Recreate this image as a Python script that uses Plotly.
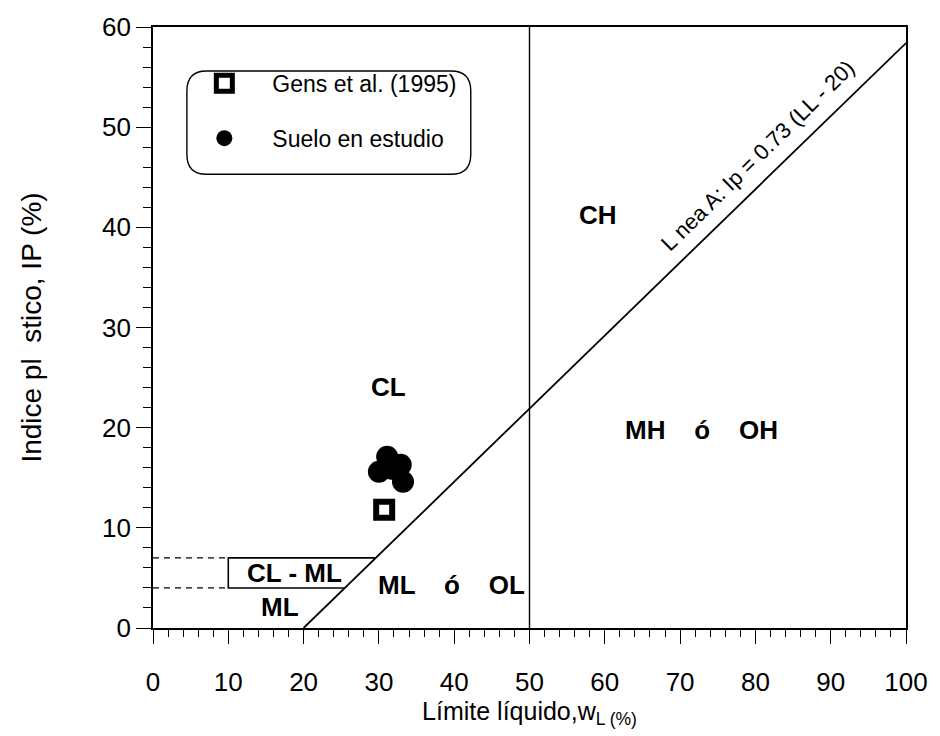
import plotly.graph_objects as go

# Data
gens_ll = [30.7]
gens_ip = [11.8]
suelo_ll = [30.0, 31.1, 31.7, 32.9, 33.2]
suelo_ip = [15.6, 17.1, 15.9, 16.3, 14.6]

aline_ll = [20, 100]
aline_ip = [0.73 * (v - 20) for v in aline_ll]

FONT = "Liberation Sans, Arial, sans-serif"

fig = go.Figure()

# A-line
fig.add_trace(go.Scatter(x=aline_ll, y=aline_ip, mode="lines",
                         line=dict(color="black", width=1.8), showlegend=False, hoverinfo="skip"))
# vertical line LL=50
fig.add_trace(go.Scatter(x=[50, 50], y=[0, 60], mode="lines",
                         line=dict(color="black", width=1.4), showlegend=False, hoverinfo="skip"))
# dashed lines at IP=4 and 7
for ipv in [4, 7]:
    fig.add_trace(go.Scatter(x=[0, 10], y=[ipv, ipv], mode="lines",
                             line=dict(color="black", width=1.3, dash="6px,5px"),
                             showlegend=False, hoverinfo="skip"))
# CL-ML box
x7 = 20 + 7 / 0.73
x4 = 20 + 4 / 0.73
fig.add_trace(go.Scatter(x=[x7, 10, 10, x4], y=[7, 7, 4, 4], mode="lines",
                         line=dict(color="black", width=1.6), showlegend=False, hoverinfo="skip"))

fig.add_trace(go.Scatter(x=gens_ll, y=gens_ip, mode="markers", name="Gens et al. (1995)",
                         legendgroup="a",
                         marker=dict(symbol="square", size=16, color="white",
                                     line=dict(color="black", width=6))))
fig.add_trace(go.Scatter(x=suelo_ll, y=suelo_ip, mode="markers", name="Suelo en estudio",
                         legendgroup="b",
                         marker=dict(symbol="circle", size=22, color="black",
                                     line=dict(color="black", width=0))))

# rounded legend box (data coords)
x0, x1, y0, y1 = 4.5, 42.2, 45.3, 55.6
rx, ry = 2.6, 2.0
path = (f"M {x0+rx},{y1} L {x1-rx},{y1} Q {x1},{y1} {x1},{y1-ry} "
        f"L {x1},{y0+ry} Q {x1},{y0} {x1-rx},{y0} L {x0+rx},{y0} "
        f"Q {x0},{y0} {x0},{y0+ry} L {x0},{y1-ry} Q {x0},{y1} {x0+rx},{y1} Z")
fig.add_shape(type="path", path=path, xref="x", yref="y",
              line=dict(color="black", width=1.4), fillcolor="white", layer="below")

labels = [
    ("CL", 31.3, 24.1),
    ("CH", 59.1, 41.2),
    ("MH    ó    OH", 72.8, 19.8),
    ("ML    ó    OL", 39.7, 4.3),
    ("CL - ML", 18.8, 5.5),
    ("ML", 16.8, 2.1),
]
for t, xx, yy in labels:
    fig.add_annotation(x=xx, y=yy, text=f"<b>{t}</b>", showarrow=False,
                       font=dict(family=FONT, size=26, color="black"))

fig.add_annotation(x=80.3, y=47.2, text="L nea A: Ip = 0.73 (LL - 20)", showarrow=False,
                   textangle=-44.5, font=dict(family=FONT, size=22, color="black"))

fig.update_layout(
    width=940, height=736,
    margin=dict(l=153, r=31, t=18, b=108),
    paper_bgcolor="white", plot_bgcolor="white",
    font=dict(family=FONT, size=24, color="black"),
    showlegend=True,
    legend=dict(x=0.031, y=0.942, xanchor="left", yanchor="top",
                bgcolor="rgba(0,0,0,0)", borderwidth=0,
                font=dict(family=FONT, size=23, color="black"),
                tracegroupgap=22, itemwidth=86),
    xaxis=dict(range=[0, 100], tickvals=[0, 10, 20, 30, 40, 50, 60, 70, 80, 90, 100],
               ticks="outside", ticklen=14, tickwidth=1.3, tickcolor="black",
               minor=dict(dtick=2, ticks="outside", ticklen=7, tickwidth=1.1, tickcolor="black"),
               showline=True, linecolor="black", linewidth=1.6, mirror=True,
               showgrid=False, zeroline=False,
               ticklabelstandoff=16,
               tickfont=dict(family=FONT, size=26),
               title=dict(text="Límite líquido,w<sub>L (%)</sub>", standoff=0,
                          font=dict(family=FONT, size=25))),
    yaxis=dict(range=[0, 60], tickvals=[0, 10, 20, 30, 40, 50, 60],
               ticks="outside", ticklen=15, tickwidth=1.3, tickcolor="black",
               minor=dict(dtick=2, ticks="outside", ticklen=8, tickwidth=1.1, tickcolor="black"),
               showline=True, linecolor="black", linewidth=1.6, mirror=True,
               showgrid=False, zeroline=False,
               tickfont=dict(family=FONT, size=26),
               title=dict(text="Indice pl  stico, IP (%)", standoff=52,
                          font=dict(family=FONT, size=28))),
)

fig.write_html("out.html", post_script="document.body.style.margin='0';",
               config={"displayModeBar": False})
